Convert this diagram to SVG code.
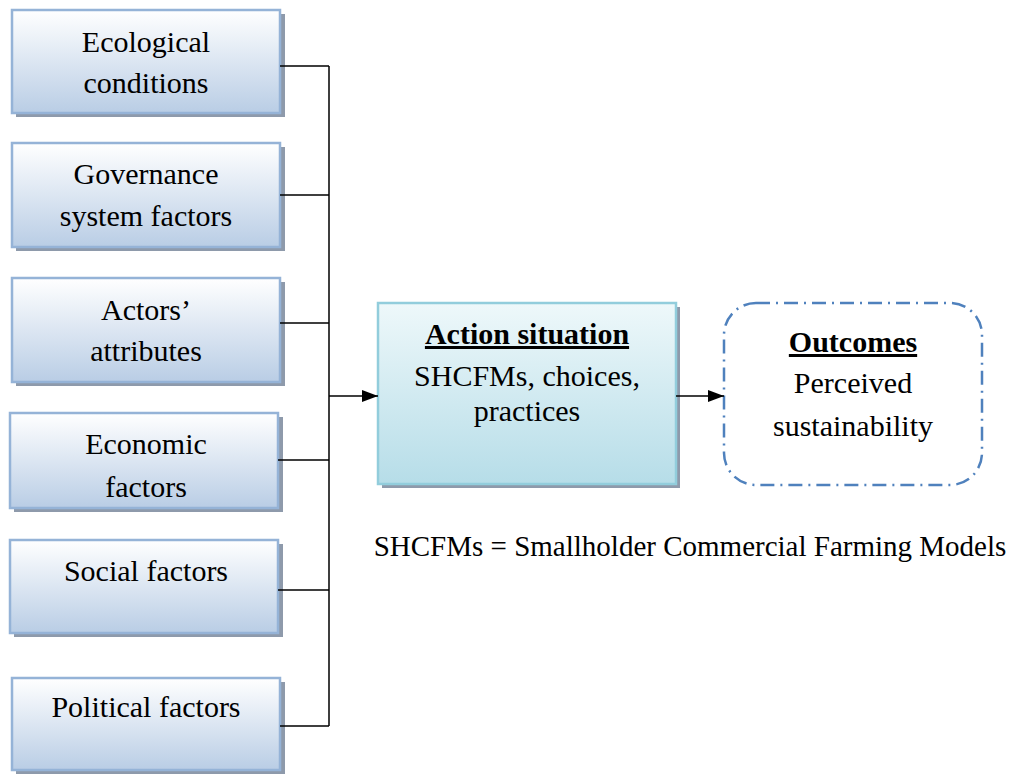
<svg xmlns="http://www.w3.org/2000/svg" width="1016" height="774" viewBox="0 0 1016 774">
  <defs>
    <linearGradient id="gFactor" x1="0" y1="0" x2="0" y2="1">
      <stop offset="0" stop-color="#ffffff"/>
      <stop offset="1" stop-color="#b9cde5"/>
    </linearGradient>
    <linearGradient id="gAction" x1="0" y1="0" x2="0" y2="1">
      <stop offset="0" stop-color="#eef8fa"/>
      <stop offset="1" stop-color="#b6dde8"/>
    </linearGradient>
    <marker id="arrow" markerWidth="16" markerHeight="12" refX="16" refY="6" orient="auto" markerUnits="userSpaceOnUse">
      <path d="M0,0 L16,6 L0,12 Z" fill="#000"/>
    </marker>
  </defs>
  <style>
    .shadow { fill: #8e9aab; }
    .factor { fill: url(#gFactor); stroke: #95b3d7; stroke-width: 2.5; }
    .action { fill: url(#gAction); stroke: #92cddc; stroke-width: 2.5; }
    .outcome { fill: #ffffff; stroke: #4f81bd; stroke-width: 2.5; stroke-dasharray: 14 6 2 6; }
    text { font-family: "Liberation Serif", Tinos, "Times New Roman", Times, "Noto Serif", "DejaVu Serif", serif; }
    .t { font-size: 30px; fill: #000; text-anchor: middle; }
    .b { font-weight: bold; text-decoration: underline; }
    .cap { font-size: 29px; }
    .wire { fill: none; stroke: #000; stroke-width: 1.5; }
  </style>
  <rect width="1016" height="774" fill="#ffffff"/>

  <g id="ecological">
    <rect class="shadow" x="16" y="14" width="269" height="103"/>
    <rect class="factor" x="12" y="10" width="268" height="103"/>
    <text class="t" x="146" y="52">Ecological</text>
    <text class="t" x="146" y="93">conditions</text>
  </g>
  <g id="governance">
    <rect class="shadow" x="16" y="147" width="269" height="104"/>
    <rect class="factor" x="12" y="143" width="268" height="104"/>
    <text class="t" x="146" y="184">Governance</text>
    <text class="t" x="146" y="226">system factors</text>
  </g>
  <g id="actors">
    <rect class="shadow" x="16" y="282" width="269" height="104"/>
    <rect class="factor" x="12" y="278" width="268" height="104"/>
    <text class="t" x="146" y="320">Actors’</text>
    <text class="t" x="146" y="361">attributes</text>
  </g>
  <g id="economic">
    <rect class="shadow" x="14" y="417" width="269" height="95"/>
    <rect class="factor" x="10" y="413" width="268" height="95"/>
    <text class="t" x="146" y="454">Economic</text>
    <text class="t" x="146" y="497">factors</text>
  </g>
  <g id="social">
    <rect class="shadow" x="14" y="544" width="269" height="93"/>
    <rect class="factor" x="10" y="540" width="268" height="93"/>
    <text class="t" x="146" y="581">Social factors</text>
  </g>
  <g id="political">
    <rect class="shadow" x="16" y="682" width="269" height="92"/>
    <rect class="factor" x="12" y="678" width="268" height="92"/>
    <text class="t" x="146" y="717">Political factors</text>
  </g>

  <g id="action-situation">
    <rect class="shadow" x="382" y="307" width="298" height="181"/>
    <rect class="action" x="378" y="303" width="298" height="181"/>
    <text class="t b" x="527" y="344">Action situation</text>
    <text class="t" x="527" y="386">SHCFMs, choices,</text>
    <text class="t" x="527" y="421">practices</text>
  </g>

  <g id="outcomes">
    <rect class="outcome" x="724" y="303" width="258" height="182" rx="32" ry="32"/>
    <text class="t b" x="853" y="352">Outcomes</text>
    <text class="t" x="853" y="393">Perceived</text>
    <text class="t" x="853" y="436">sustainability</text>
  </g>

  <g id="connectors">
    <path class="wire" d="M280,66 H329 M280,195 H329 M280,323 H329 M278,460 H329 M278,590 H329 M280,726 H329 M329,66 V726"/>
    <line class="wire" x1="329" y1="396" x2="378" y2="396" marker-end="url(#arrow)"/>
    <line class="wire" x1="676" y1="396" x2="724" y2="396" marker-end="url(#arrow)"/>
  </g>

  <text id="legend" class="t cap" x="690" y="556">SHCFMs = Smallholder Commercial Farming Models</text>
</svg>
